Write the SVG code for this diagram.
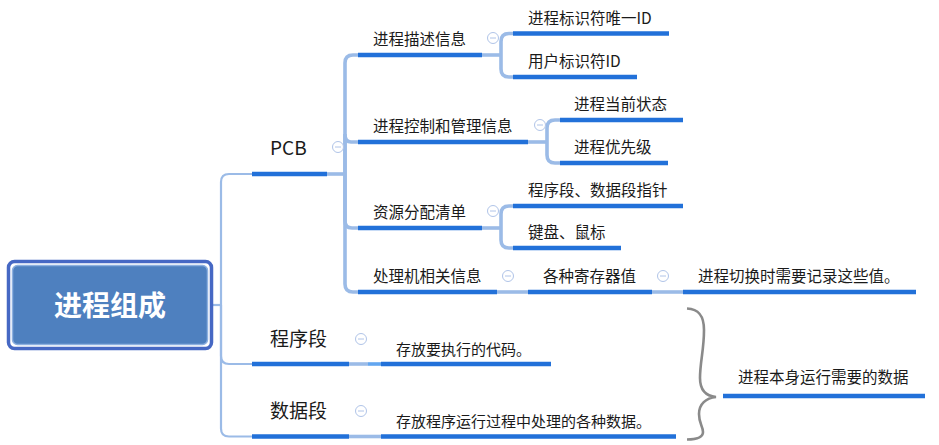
<svg xmlns="http://www.w3.org/2000/svg" width="939" height="445" viewBox="0 0 939 445">
<style>
.t{font-family:"Noto Sans CJK SC","Liberation Sans",sans-serif;fill:#1a1a1a}
.t2{font-size:15.5px}
.t1{font-size:19px}
.t4{font-size:15px}
.u{stroke:#2271d9;stroke-width:4.5;fill:none}
.c{stroke:#9bbbe7;fill:none;stroke-linecap:butt}
.ct{stroke-width:2.2}
.cm{stroke-width:3.6}
</style>
<defs>
<g id="minus"><circle cx="0" cy="0" r="5.5" fill="#fff" stroke="#b0c4e8" stroke-width="1"/><line x1="-3" y1="0" x2="3" y2="0" stroke="#b0c4e8" stroke-width="1"/></g>
</defs>
<rect width="939" height="445" fill="#fff"/>
<g id="connectors">
<path class="c ct" d="M213,305 H221"/>
<path class="c ct" d="M221,305 V182 Q221,174 229,174 H252"/>
<path class="c ct" d="M221,305 V356 Q221,364 229,364 H252"/>
<path class="c ct" d="M221,305 V428.5 Q221,436.5 229,436.5 H252"/>
<path class="c cm" d="M327,174 H345"/>
<path class="c cm" d="M345,174 V63 Q345,55 353,55 H358"/>
<path class="c cm" d="M345,174 V134 Q345,142 351,142 H358"/>
<path class="c cm" d="M345,174 V221 Q345,228 352,228 H358"/>
<path class="c cm" d="M345,174 V284 Q345,292 353,292 H358"/>
<path class="c cm" d="M482,55 H501"/>
<path class="c cm" d="M501,55 V41.5 Q501,33.5 509,33.5 H513"/>
<path class="c cm" d="M501,55 V69 Q501,77 509,77 H513"/>
<path class="c cm" d="M528,142 H547"/>
<path class="c cm" d="M547,142 V128 Q547,120 555,120 H560"/>
<path class="c cm" d="M547,142 V155 Q547,163 555,163 H560"/>
<path class="c cm" d="M482,228 H501"/>
<path class="c cm" d="M501,228 V214 Q501,206 509,206 H513"/>
<path class="c cm" d="M501,228 V240 Q501,248 509,248 H513"/>
<path class="c cm" d="M497,292 H528"/>
<path class="c cm" d="M652,292 H683"/>
<path class="c cm" d="M349,364 H368"/>
<path class="c cm" d="M368,364 H381" style="stroke:#62a6f0"/>
<path class="c cm" d="M349,436.5 H381"/>
</g>
<g id="root">
<rect x="8.5" y="261.5" width="203" height="87" rx="6" fill="#fff" stroke="#4668c4" stroke-width="3.5"/>
<rect x="12.5" y="265.5" width="195" height="79" rx="5" fill="#4e80bf" stroke="#8db0e0" stroke-width="1.5"/>
<text x="110" y="316" text-anchor="middle" font-family="Noto Sans CJK SC,sans-serif" font-size="28" font-weight="bold" fill="#fff">进程组成</text>
</g>
<g id="pcb">
<line class="u" x1="252" y1="174" x2="327" y2="174"/>
<text class="t t1" x="270" y="155">PCB</text>
<use href="#minus" x="338" y="147"/>
</g>
<g id="desc">
<line class="u" x1="358" y1="55" x2="482" y2="55"/>
<text class="t t2" x="373" y="45">进程描述信息</text>
<use href="#minus" x="493" y="38"/>
</g>
<g id="pid">
<line class="u" x1="513" y1="33.5" x2="669" y2="33.5"/>
<text class="t t2" x="528" y="24">进程标识符唯一ID</text>
</g>
<g id="uid">
<line class="u" x1="513" y1="77" x2="637" y2="77"/>
<text class="t t2" x="528" y="67">用户标识符ID</text>
</g>
<g id="ctrl">
<line class="u" x1="358" y1="142" x2="528" y2="142"/>
<text class="t t2" x="373" y="132">进程控制和管理信息</text>
<use href="#minus" x="540" y="125"/>
</g>
<g id="state">
<line class="u" x1="560" y1="120" x2="683" y2="120"/>
<text class="t t2" x="574" y="110">进程当前状态</text>
</g>
<g id="prio">
<line class="u" x1="560" y1="163" x2="668" y2="163"/>
<text class="t t2" x="574" y="153">进程优先级</text>
</g>
<g id="res">
<line class="u" x1="358" y1="228" x2="482" y2="228"/>
<text class="t t2" x="373" y="218">资源分配清单</text>
<use href="#minus" x="493" y="211"/>
</g>
<g id="segptr">
<line class="u" x1="513" y1="206" x2="683" y2="206"/>
<text class="t t2" x="528" y="196">程序段、数据段指针</text>
</g>
<g id="kbd">
<line class="u" x1="513" y1="248" x2="621" y2="248"/>
<text class="t t2" x="528" y="238">键盘、鼠标</text>
</g>
<g id="cpu">
<line class="u" x1="358" y1="292" x2="497" y2="292"/>
<text class="t t2" x="373" y="282">处理机相关信息</text>
<use href="#minus" x="508" y="276"/>
</g>
<g id="regs">
<line class="u" x1="528" y1="292" x2="652" y2="292"/>
<text class="t t2" x="543" y="282">各种寄存器值</text>
<use href="#minus" x="663" y="276"/>
</g>
<g id="switch">
<line class="u" x1="683" y1="292" x2="916" y2="292"/>
<text class="t t2" x="698" y="282">进程切换时需要记录这些值。</text>
</g>
<g id="code">
<line class="u" x1="252" y1="364" x2="349" y2="364"/>
<text class="t t1" x="270" y="346">程序段</text>
<use href="#minus" x="361" y="339"/>
</g>
<g id="codedesc">
<line class="u" x1="381" y1="364" x2="551" y2="364"/>
<text class="t t4" x="396" y="355">存放要执行的代码。</text>
</g>
<g id="data">
<line class="u" x1="252" y1="436.5" x2="349" y2="436.5"/>
<text class="t t1" x="270" y="418">数据段</text>
<use href="#minus" x="361" y="411"/>
</g>
<g id="datadesc">
<line class="u" x1="381" y1="436.5" x2="676" y2="436.5"/>
<text class="t t4" x="396" y="427">存放程序运行过程中处理的各种数据。</text>
</g>
<g id="brace">
<path d="M687,308.5 C699,309 704,316 704,330 C704,350 700,362 700,378 C700,390 706,396 716,397 C706,398 699,404 699,414 C699,424 703,426 703,432 C703,437 697,439.5 687,439.5" fill="none" stroke="#8a8a8a" stroke-width="2.6"/>
</g>
<g id="summary">
<line class="u" x1="723" y1="396" x2="925" y2="396"/>
<text class="t t2" x="738" y="383">进程本身运行需要的数据</text>
</g>
</svg>
